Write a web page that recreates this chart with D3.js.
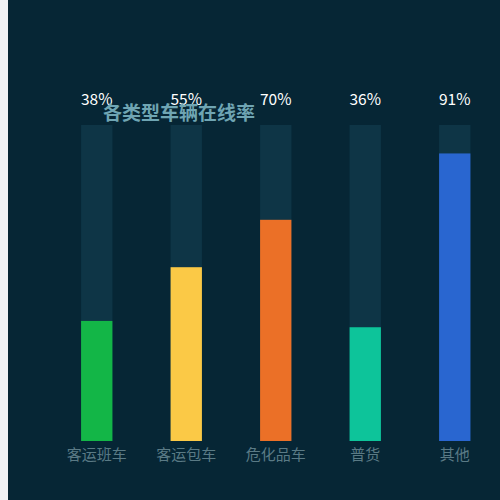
<!DOCTYPE html>
<html>
<head>
<meta charset="utf-8">
<script src="https://cdn.jsdelivr.net/npm/d3@7"></script>
<style>
  html, body { margin: 0; padding: 0; background: #f0f2f5; }
  #chart { width: 500px; height: 500px; }
</style>
</head>
<body>
<div id="chart"></div>
<script>
const categories = ['客运班车', '客运包车', '危化品车', '普货', '其他']
const rates = [38, 55, 70, 36, 91]
const colors = ['#13b647', '#fbc946', '#eb7027', '#0dc49a', '#2966d0']

const width = 500
const height = 500
const svg = d3.select('#chart').append('svg').attr('width', width).attr('height', height)

// 背景
svg.append('rect').attr('x', 8).attr('y', 0).attr('width', width - 8).attr('height', height).attr('fill', '#062635')

const x = d3.scaleBand().domain(categories).range([52, 499.5]).paddingInner(0.65).paddingOuter(0.325)
const y = d3.scaleLinear().domain([0, 100]).range([441, 125])

const g = svg.selectAll('.bar').data(categories).enter().append('g').attr('class', 'bar')

// 底色柱
g.append('rect')
  .attr('x', d => x(d))
  .attr('y', y(100))
  .attr('width', x.bandwidth())
  .attr('height', y(0) - y(100))
  .attr('fill', '#0e3546')

// 数值柱
g.append('rect')
  .attr('x', d => x(d))
  .attr('y', (d, i) => y(rates[i]))
  .attr('width', x.bandwidth())
  .attr('height', (d, i) => y(0) - y(rates[i]))
  .attr('fill', (d, i) => colors[i])

// 百分比
g.append('text')
  .attr('x', d => x(d) + x.bandwidth() / 2)
  .attr('y', 105)
  .attr('text-anchor', 'middle')
  .attr('fill', '#ffffff')
  .style('font-family', 'Noto Sans CJK SC, sans-serif')
  .style('font-size', '15.5px')
  .text((d, i) => rates[i] + '%')

// 分类标签
svg.append('g')
  .attr('transform', 'translate(0,441)')
  .call(d3.axisBottom(x).tickSize(0).tickPadding(8))
  .call(a => a.select('.domain').remove())
  .selectAll('text')
  .attr('fill', '#5a7a85')
  .style('font-family', 'Noto Sans CJK SC, sans-serif')
  .style('font-size', '15px')

// 标题
svg.append('text')
  .attr('x', 179)
  .attr('y', 120)
  .attr('text-anchor', 'middle')
  .attr('fill', '#6fa5b3')
  .style('font-family', 'Noto Sans CJK SC, sans-serif')
  .style('font-size', '19px')
  .style('font-weight', 'bold')
  .text('各类型车辆在线率')
</script>
</body>
</html>
